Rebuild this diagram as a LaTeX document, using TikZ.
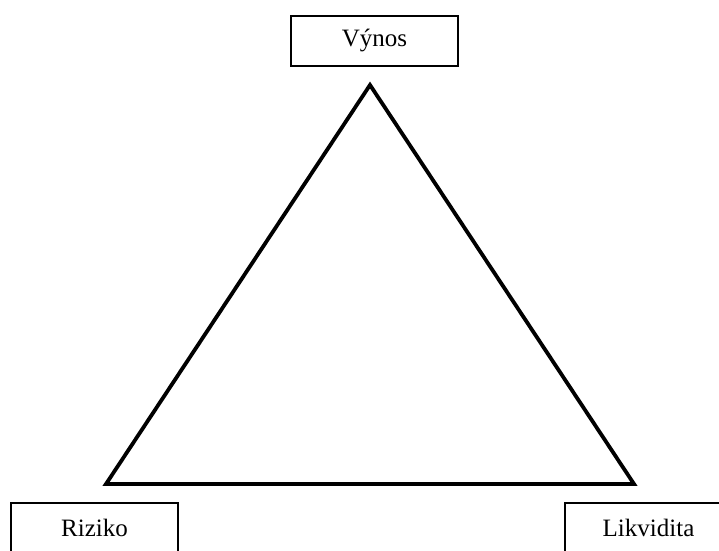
\documentclass[tikz,border=0pt]{standalone}
\usepackage{fontspec}
\setmainfont{Liberation Serif}
\begin{document}
\begin{tikzpicture}[x=1pt,y=-1pt,
  lbl/.style={draw=black, line width=1.1pt, minimum width=167pt, minimum height=50pt, inner sep=0pt, font=\fontsize{25}{30}\selectfont},
  tri/.style={line width=3.8pt, line join=miter}]
\useasboundingbox (0,0) rectangle (719,550);
\node[lbl] (vynos) at (374.5,41) {Výnos};
\node[lbl] (riziko) at (94.5,528) {Riziko};
\node[lbl] (likvidita) at (648.5,528) {Likvidita};
\coordinate (top) at (370,85);
\coordinate (bl) at (106,484);
\coordinate (br) at (634,484);
\draw[tri] (top) -- (bl) -- (br) -- cycle;
\end{tikzpicture}
\end{document}
